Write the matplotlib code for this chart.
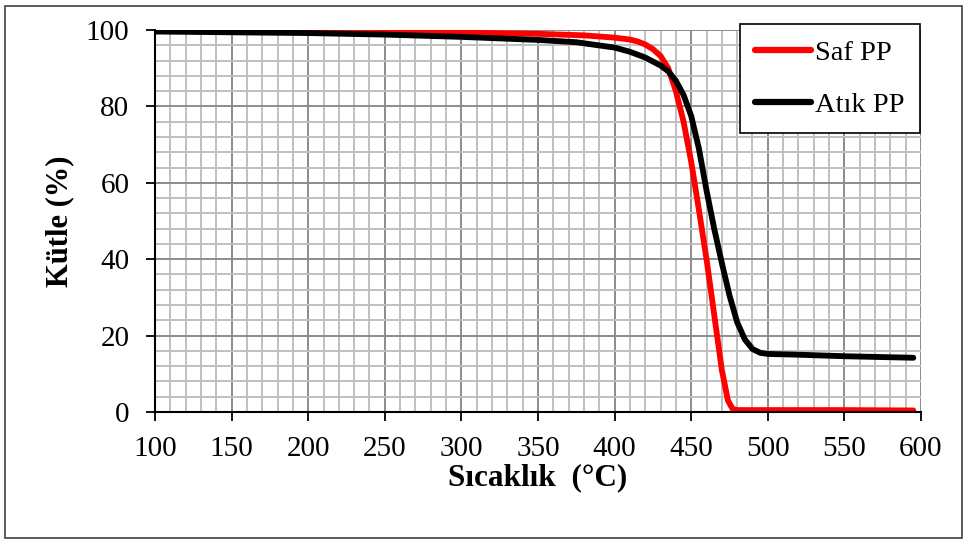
import matplotlib
matplotlib.use("Agg")
import matplotlib.pyplot as plt
from matplotlib.patches import Rectangle
from matplotlib.ticker import MultipleLocator

plt.rcParams["font.family"] = ["Liberation Serif", "DejaVu Serif"]

# Saf PP (virgin PP) thermogravimetric curve
saf_temp = [100, 150, 200, 250, 300, 350, 380, 400, 410, 415, 420, 425, 430, 435, 440, 445,
            450, 455, 460, 465, 470, 474, 477, 480, 500, 550, 595]
saf_mass = [99.8, 99.7, 99.6, 99.5, 99.3, 99.0, 98.6, 98.0, 97.5, 97.0, 96.2, 95.0, 93.2, 90.0, 84.0, 76.0,
            65.5, 53.0, 40.0, 25.5, 11.0, 3.0, 0.8, 0.5, 0.5, 0.5, 0.4]

# Atık PP (waste PP)
atik_temp = [100, 150, 200, 250, 300, 325, 350, 375, 400, 410, 420, 430, 435, 440, 445, 450, 455,
             460, 465, 470, 475, 480, 485, 490, 495, 500, 520, 550, 595]
atik_mass = [99.6, 99.4, 99.2, 98.8, 98.2, 97.8, 97.4, 96.8, 95.4, 94.3, 92.8, 90.7, 89.2, 86.7, 83.0, 77.5, 69.0,
             58.0, 48.0, 39.0, 30.5, 23.5, 19.0, 16.5, 15.5, 15.2, 15.0, 14.6, 14.2]

fig = plt.figure(figsize=(9.67, 5.44), dpi=100)
ax = fig.add_axes([155 / 967, 1 - 412 / 544, 766 / 967, 382 / 544])

ax.plot(saf_temp, saf_mass, color="#ff0000", lw=4.2, label="Saf PP", zorder=3, solid_capstyle="round")
ax.plot(atik_temp, atik_mass, color="black", lw=4.2, label="Atık PP", zorder=3, solid_capstyle="round")

ax.set_xlim(100, 600)
ax.set_ylim(0, 100)
ax.xaxis.set_major_locator(MultipleLocator(50))
ax.xaxis.set_minor_locator(MultipleLocator(10))
ax.yaxis.set_major_locator(MultipleLocator(20))
ax.yaxis.set_minor_locator(MultipleLocator(4))
ax.grid(which="minor", color="#c0c0c0", lw=1.4, zorder=0)
ax.grid(which="major", color="#8c8c8c", lw=1.4, zorder=1)
ax.set_axisbelow(True)

for side in ("top", "right"):
    ax.spines[side].set_visible(False)
for side in ("left", "bottom"):
    ax.spines[side].set_linewidth(1.5)
    ax.spines[side].set_zorder(4)

ax.tick_params(which="major", direction="out", length=6.5, width=1.3, labelsize=21)
ax.tick_params(axis="x", pad=11)
ax.tick_params(axis="y", pad=12)
ax.tick_params(which="minor", length=0)

ax.set_xlabel("Sıcaklık  (°C)", fontsize=22.5, fontweight="bold", labelpad=1)
ax.set_ylabel("Kütle (%)", fontsize=22, fontweight="bold", labelpad=8)

leg = ax.legend(loc="upper right", bbox_to_anchor=(0.9987, 1.0157), fontsize=20.5, frameon=True,
                fancybox=False, edgecolor="black", framealpha=1, handlelength=1.95,
                handletextpad=0.14, labelspacing=0.92, borderpad=0.55, borderaxespad=0)
leg.get_frame().set_linewidth(1.2)
for line in leg.get_lines():
    line.set_linewidth(4.5)

fig.patches.append(Rectangle((5 / 967, 6 / 544), 957 / 967, 532 / 544, transform=fig.transFigure,
                             fill=False, edgecolor="#404040", lw=1.2))

fig.savefig("out.png", dpi=100)
